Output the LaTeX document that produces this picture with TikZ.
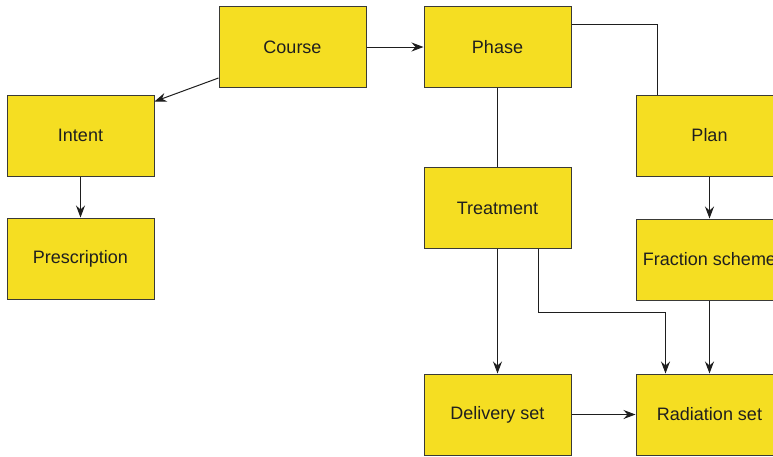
\documentclass[tikz,border=0pt]{standalone}
\usepackage{fontspec}
\setmainfont{Liberation Sans}
\usetikzlibrary{arrows.meta}
\definecolor{boxfill}{HTML}{F5DE22}
\definecolor{boxline}{HTML}{3A3A36}
\definecolor{lnk}{HTML}{1E1E1E}
\tikzset{
  ebox/.style={draw=boxline, fill=boxfill, line width=1pt, minimum width=147pt, minimum height=81pt, inner sep=0pt, font=\fontsize{18}{21}\selectfont, text=black!88},
  link/.style={draw=lnk, line width=1pt},
  arr/.style={link, -{Stealth[length=12pt,width=9pt,inset=4pt]}}
}
\begin{document}
\begin{tikzpicture}[x=1pt,y=1pt]
\useasboundingbox (0,0) rectangle (773,-456);
\clip (0,0) rectangle (773,-456);
\node[ebox] (course) at (292.5,-47) {Course};
\node[ebox] (phase) at (497.5,-47) {Phase};
\node[ebox] (intent) at (80.5,-135.5) {Intent};
\node[ebox] (prescription) at (80.5,-258.5) {Prescription};
\node[ebox] (plan) at (709.5,-135.5) {Plan};
\node[ebox] (treatment) at (497.5,-208) {Treatment};
\node[ebox] (fraction) at (709.5,-259.5) {Fraction scheme};
\node[ebox] (delivery) at (497.5,-414.5) {Delivery set};
\node[ebox] (radiation) at (709.5,-414.5) {Radiation set};

\draw[arr] (course) -- (phase);
\draw[arr] ([yshift=10pt]course.south west) -- ([yshift=-7pt]intent.north east);
\draw[arr] (intent) -- (prescription);
\draw[link] ([yshift=-18pt]phase.north east) -| ([xshift=21.5pt]plan.north west);
\draw[link] (phase) -- (treatment);
\draw[arr] (plan) -- (fraction);
\draw[arr] (treatment) -- (delivery);
\draw[arr] ([xshift=40.5pt]treatment.south) -- ++(0,-63.5) -| ([xshift=-44pt]radiation.north);
\draw[arr] (fraction) -- (radiation);
\draw[arr] (delivery) -- (radiation);
\end{tikzpicture}
\end{document}
